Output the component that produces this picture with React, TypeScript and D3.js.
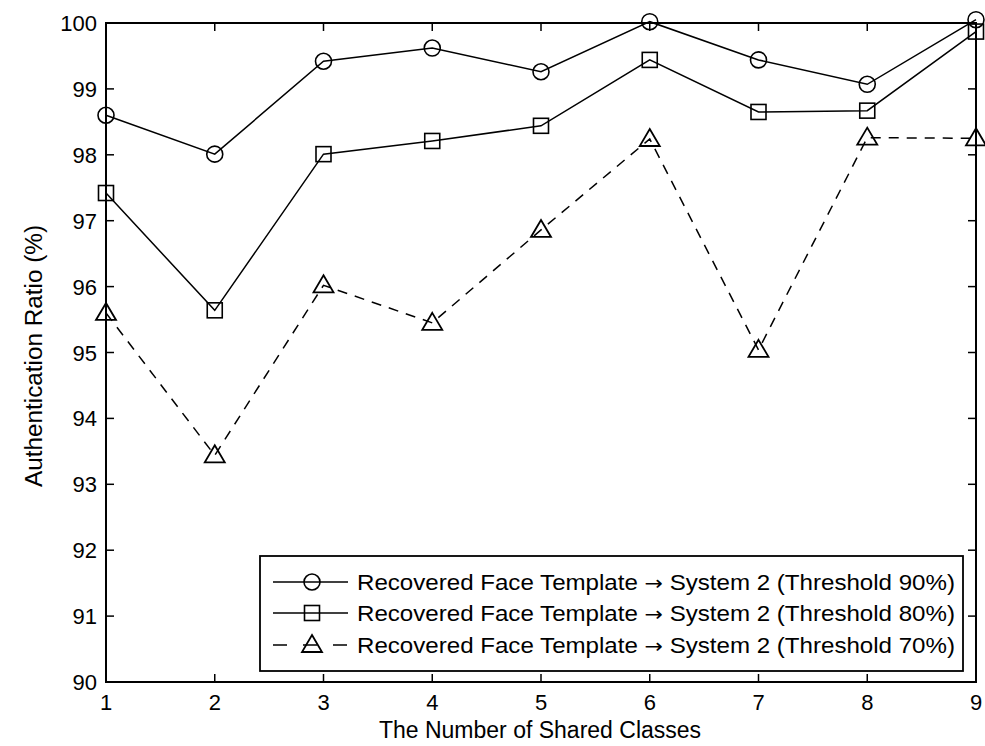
import React from "react";
import * as d3 from "d3";

const classes = [1, 2, 3, 4, 5, 6, 7, 8, 9];
const threshold90 = [98.6, 98.01, 99.42, 99.62, 99.26, 100.02, 99.44, 99.07, 100.05];
const threshold80 = [97.42, 95.64, 98.01, 98.21, 98.44, 99.44, 98.65, 98.67, 99.87];
const threshold70 = [95.6, 93.44, 96.02, 95.45, 96.86, 98.24, 95.04, 98.26, 98.25];
const yTicks = [90, 91, 92, 93, 94, 95, 96, 97, 98, 99, 100];
const legendThresholds = ["90%", "80%", "70%"];

const W = 985;
const H = 746;
const left = 106;
const right = 976;
const top = 23;
const bottom = 682;
const font = "'Liberation Sans', Arial, sans-serif";

const Marker = ({ kind, cx, cy }: { kind: string; cx: number; cy: number }) => {
  if (kind === "circle") {
    return <circle cx={cx} cy={cy} r={8} fill="none" stroke="#000" strokeWidth={1.6} />;
  }
  if (kind === "square") {
    return <rect x={cx - 7.5} y={cy - 7.5} width={15} height={15} fill="none" stroke="#000" strokeWidth={1.6} />;
  }
  return (
    <path
      d={`M${cx},${cy - 10}L${cx + 10},${cy + 7}L${cx - 10},${cy + 7}Z`}
      fill="none"
      stroke="#000"
      strokeWidth={1.8}
    />
  );
};

const App = () => {
  const x = d3.scaleLinear().domain([1, 9]).range([left, right]);
  const y = d3.scaleLinear().domain([90, 100]).range([bottom, top]);

  const line = d3
    .line<number>()
    .x((d, i) => x(classes[i]))
    .y((d) => y(d));

  const series = [
    { values: threshold90, kind: "circle", dash: undefined },
    { values: threshold80, kind: "square", dash: undefined },
    { values: threshold70, kind: "triangle", dash: "10,8" },
  ];

  const tick = 8;
  const lgX0 = 260;
  const lgX1 = 963;
  const lgY0 = 556;
  const lgY1 = 671;
  const lgRows = [582, 613, 645];

  return (
    <svg width={W} height={H} style={{ position: "absolute", left: 0, top: 0, background: "#fff" }}>
      <rect x={0} y={0} width={W} height={H} fill="#fff" />
      {/* axes box */}
      <rect x={left} y={top} width={right - left} height={bottom - top} fill="none" stroke="#000" strokeWidth={2} />
      {yTicks.map((t) => (
        <g key={"y" + t}>
          <line x1={left} x2={left + tick} y1={y(t)} y2={y(t)} stroke="#000" strokeWidth={1.5} />
          <line x1={right} x2={right - tick} y1={y(t)} y2={y(t)} stroke="#000" strokeWidth={1.5} />
          <text x={left - 9} y={y(t) + 8} textAnchor="end" fontSize={22} fontFamily={font}>
            {t}
          </text>
        </g>
      ))}
      {classes.map((c) => (
        <g key={"x" + c}>
          <line x1={x(c)} x2={x(c)} y1={bottom} y2={bottom - tick} stroke="#000" strokeWidth={1.5} />
          <line x1={x(c)} x2={x(c)} y1={top} y2={top + tick} stroke="#000" strokeWidth={1.5} />
          <text x={x(c)} y={710} textAnchor="middle" fontSize={22} fontFamily={font}>
            {c}
          </text>
        </g>
      ))}
      {/* series */}
      {series.map((s, i) => (
        <g key={"s" + i}>
          <path d={line(s.values) || ""} fill="none" stroke="#000" strokeWidth={1.5} strokeDasharray={s.dash} />
          {s.values.map((v, j) => (
            <Marker key={j} kind={s.kind} cx={x(classes[j])} cy={y(v)} />
          ))}
        </g>
      ))}
      {/* legend */}
      <rect x={lgX0} y={lgY0} width={lgX1 - lgX0} height={lgY1 - lgY0} fill="#fff" stroke="#000" strokeWidth={1.8} />
      {series.map((s, i) => (
        <g key={"l" + i}>
          <line
            x1={273}
            x2={348}
            y1={lgRows[i]}
            y2={lgRows[i]}
            stroke="#000"
            strokeWidth={1.5}
            strokeDasharray={s.dash ? "14,16" : undefined}
          />
          <Marker kind={s.kind} cx={312} cy={lgRows[i]} />
          <text
            x={357}
            y={lgRows[i] + 8}
            fontSize={22}
            fontFamily={font}
            textLength={598}
            lengthAdjust="spacingAndGlyphs"
          >
            Recovered Face Template{" "}
            <tspan fontFamily="'DejaVu Sans', sans-serif" fontSize={20}>
              {"\u2192"}
            </tspan>{" "}
            System 2 (Threshold {legendThresholds[i]})
          </text>
        </g>
      ))}
      {/* axis titles */}
      <text x={540} y={738} textAnchor="middle" fontSize={23} fontFamily={font}>
        The Number of Shared Classes
      </text>
      <text
        transform={`translate(42,356) rotate(-90)`}
        textAnchor="middle"
        fontSize={23}
        fontFamily={font}
        textLength={262}
        lengthAdjust="spacingAndGlyphs"
      >
        Authentication Ratio (%)
      </text>
    </svg>
  );
};

export default App;
